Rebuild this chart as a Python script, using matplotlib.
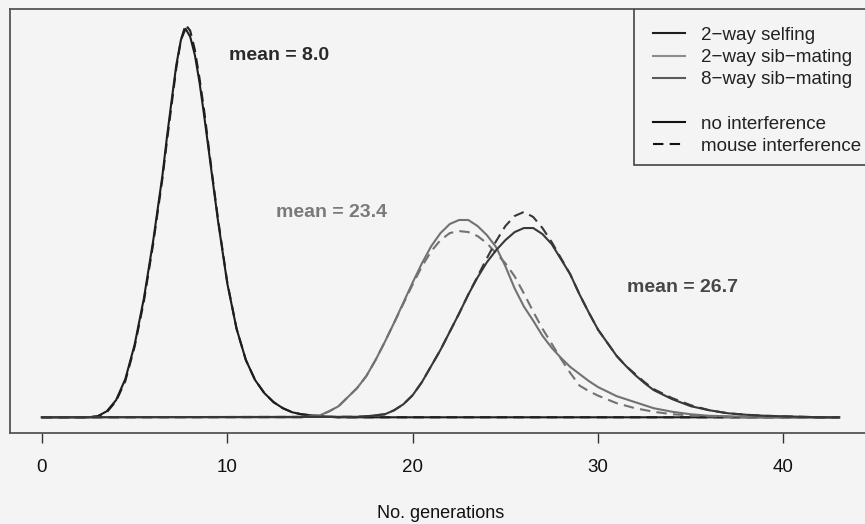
import matplotlib
matplotlib.use("Agg")
import matplotlib.pyplot as plt
from matplotlib.lines import Line2D
from matplotlib.patches import Rectangle

# values (y in arbitrary density units, no y axis shown)
x_self = [0, 2.5, 3, 3.5, 4, 4.5, 5, 5.5, 6, 6.5, 6.75, 7, 7.25, 7.5, 7.75, 8, 8.25,
          8.5, 8.75, 9, 9.25, 9.5, 10, 10.5, 11, 11.5, 12, 12.5, 13, 13.5, 14, 15, 16, 43]
self_none = [0, 0, 1, 6, 17, 38, 72, 118, 175, 240, 279, 315, 350, 375, 386, 378, 360,
             333, 300, 265, 230, 195, 133, 88, 57, 37, 24, 15, 9, 5, 3, 1, 0, 0]
self_mouse = [0, 0, 1, 5, 16, 36, 70, 115, 172, 237, 275, 311, 347, 375, 390, 384, 365,
              337, 305, 268, 232, 197, 134, 88, 57, 37, 24, 15, 9, 5, 3, 1, 0, 0]

x_sib2 = [0, 14, 15, 15.5, 16, 16.5, 17, 17.5, 18, 18.5, 19, 19.5, 20, 20.5, 21,
          21.5, 22, 22.5, 23, 23.5, 24, 24.5, 25, 25.5, 26, 26.5, 27, 27.5, 28,
          28.5, 29, 29.5, 30, 31, 32, 33, 34, 35, 36, 37, 38, 43]
sib2_none = [0, 0, 2, 6, 11, 20, 29, 41, 57, 75, 94, 114, 134, 153, 170,
             183, 192, 196, 196, 190, 181, 169, 150, 128, 110, 96, 81, 69, 59,
             50, 43, 36, 30, 21, 15, 9, 5.5, 3, 1.5, 1, 0.5, 0]
sib2_mouse = [0, 0, 2, 6, 11, 20, 29, 41, 57, 75, 94, 113, 132, 150, 165,
              176, 183, 185, 184, 180, 173, 163, 153, 140, 123, 105, 88, 73, 58,
              44, 31.5, 26, 21.5, 14, 9, 5.5, 3, 2, 1, 0.5, 0, 0]

x_sib8 = [0, 17, 17.5, 18, 18.5, 19, 19.5, 20, 20.5, 21, 21.5, 22, 22.5, 23, 23.5,
          24, 24.5, 25, 25.5, 26, 26.5, 27, 27.5, 28, 28.5, 29, 29.5, 30, 30.5,
          31, 31.5, 32, 32.5, 33, 34, 35, 36, 37, 38, 39, 40, 41, 42, 43]
sib8_none = [0, 0.5, 1, 2, 3, 7, 13, 22, 35, 51, 67, 85, 103, 122, 139,
             154, 166, 176, 184, 188, 188, 182, 172, 157, 142, 122, 104, 87, 74,
             61, 51, 42, 34, 27, 18, 11, 7, 4, 2.5, 1.5, 1, 0.5, 0, 0]
sib8_mouse = [0, 0.5, 1, 2, 3, 7, 13, 22, 35, 51, 67, 85, 103, 122, 140,
              158, 175, 190, 200, 204, 199, 188, 174, 158, 142, 122, 104, 87, 74,
              61, 51, 43, 35, 28, 19, 12, 7, 4, 2.5, 1.5, 1, 0.5, 0, 0]

mean_labels = ["mean = 8.0", "mean = 23.4", "mean = 26.7"]
mean_pos = [(12.8, 359), (15.6, 203), (34.55, 129)]
mean_colors = ["#2a2a2a", "#7a7a7a", "#474747"]

legend_labels = ["2\u2212way selfing", "2\u2212way sib\u2212mating", "8\u2212way sib\u2212mating",
                 "", "no interference", "mouse interference"]
xticks = [0, 10, 20, 30, 40]

BG = "#f4f4f4"
FONT = "Liberation Sans"
DASH = (0, (5, 3))


def main():
    plt.rcParams["font.family"] = [FONT, "DejaVu Sans"]
    fig = plt.figure(figsize=(8.65, 5.24), dpi=100, facecolor=BG)
    # axes run a little past the right edge, as in the cropped original
    ax = fig.add_axes([10 / 865, 91 / 524, 861 / 865, 424 / 524], facecolor=BG)

    curves = [
        (x_self, self_none, self_mouse, "#1e1e1e"),
        (x_sib2, sib2_none, sib2_mouse, "#727272"),
        (x_sib8, sib8_none, sib8_mouse, "#383838"),
    ]
    for xs, solid, dashed, color in curves:
        ax.plot(xs, solid, color=color, lw=1.5, solid_joinstyle="round")
        ax.plot(xs, dashed, color=color, lw=1.5, linestyle=DASH)

    ymax = max(self_mouse)
    ax.set_xlim(-1.72, 44.72)
    ax.set_ylim(-0.04 * ymax, 1.04 * ymax)

    for text, (tx, ty), c in zip(mean_labels, mean_pos, mean_colors):
        ax.text(tx, ty, text, color=c, fontsize=14, fontweight="bold",
                ha="center", va="center")

    ax.set_yticks([])
    ax.set_xticks(xticks)
    ax.set_xticklabels([str(t) for t in xticks])
    ax.tick_params(axis="x", direction="out", length=7.5, width=1, color="#333333",
                   pad=11, labelsize=13.5, labelcolor="#111111")
    ax.set_xlabel("No. generations", fontsize=13, labelpad=21, color="#111111")
    for sp in ax.spines.values():
        sp.set_color("#555555")
        sp.set_linewidth(1.3)

    # legend box drawn by hand so its size matches the original
    box = Rectangle((624 / 861, 268 / 424), 1 - 624 / 861, 1 - 268 / 424,
                    transform=ax.transAxes, facecolor=BG, edgecolor="#444444",
                    lw=1.2, zorder=4)
    ax.add_patch(box)

    handles = [
        Line2D([], [], color="#1e1e1e", lw=1.5),
        Line2D([], [], color="#8c8c8c", lw=1.5),
        Line2D([], [], color="#5a5a5a", lw=1.5),
        Line2D([], [], color="none", lw=0),
        Line2D([], [], color="#111111", lw=1.5),
        Line2D([], [], color="#111111", lw=1.5, linestyle=DASH),
    ]
    leg = ax.legend(handles, legend_labels, loc="upper right",
                    bbox_to_anchor=(1 + 8 / 861, 1), borderaxespad=0,
                    frameon=False, fontsize=13.5, handlelength=1.7,
                    handletextpad=0.85, labelspacing=0.27, borderpad=0.95)
    leg.set_zorder(5)
    for t in leg.get_texts():
        t.set_color("#222222")

    fig.savefig("out.png", dpi=100, facecolor=BG)


if __name__ == "__main__":
    main()
